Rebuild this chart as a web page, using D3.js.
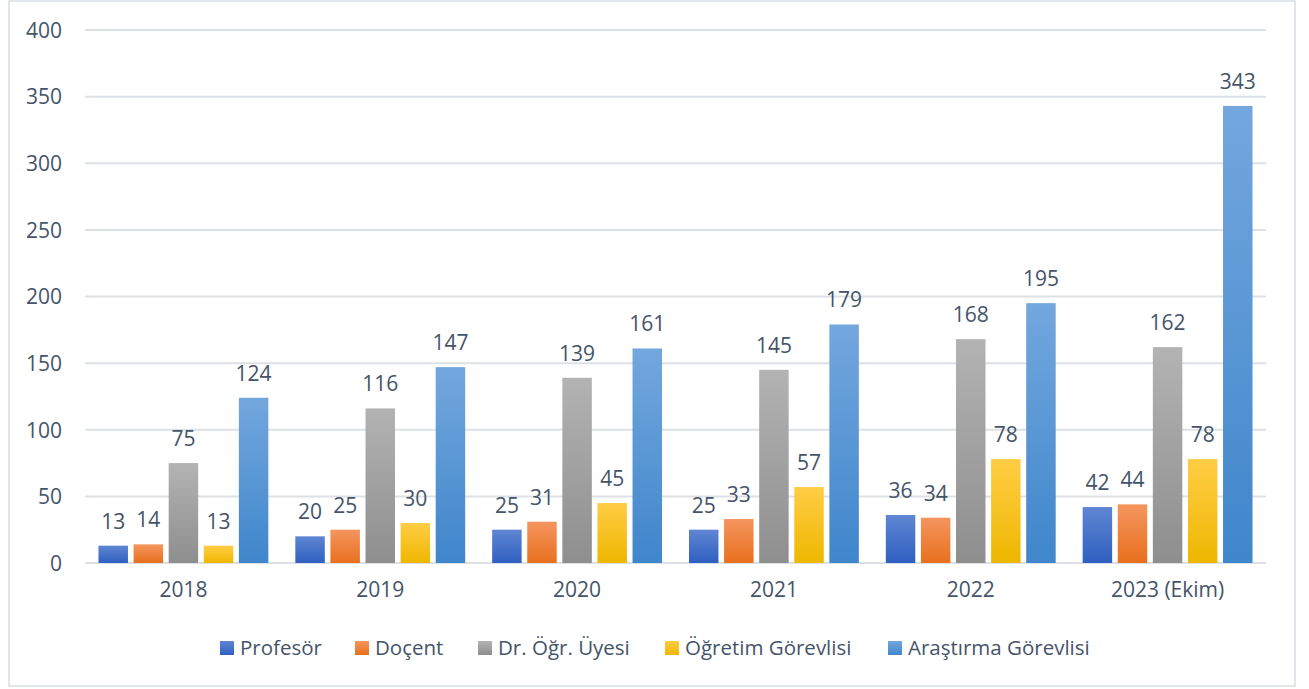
<!DOCTYPE html>
<html>
<head>
<meta charset="utf-8">
<script src="https://cdn.jsdelivr.net/npm/d3@7"></script>
<style>
  body { margin: 0; background: #fff; }
  svg text { font-family: "Open Sans", sans-serif; fill: #44546a; }
</style>
</head>
<body>
<svg id="chart"></svg>
<script>
var years = ["2018", "2019", "2020", "2021", "2022", "2023 (Ekim)"];
var seriesNames = ["Profesör", "Doçent", "Dr. Öğr. Üyesi", "Öğretim Görevlisi", "Araştırma Görevlisi"];
var profesor = [13, 20, 25, 25, 36, 42];
var docent = [14, 25, 31, 33, 34, 44];
var drOgrUyesi = [75, 116, 139, 145, 168, 162];
var ogretimGor = [13, 30, 45, 57, 78, 78];
var arastirmaGor = [124, 147, 161, 179, 195, 343];
var yTicks = [0, 50, 100, 150, 200, 250, 300, 350, 400];

var allSeries = [profesor, docent, drOgrUyesi, ogretimGor, arastirmaGor];
// gradient top / bottom colours per series
var colors = [
  ["#5f86d3", "#2f5fc0"],
  ["#f4955e", "#e8701e"],
  ["#b3b3b3", "#8e8e8e"],
  ["#ffcd45", "#eeb700"],
  ["#73a7de", "#3f86cb"]
];

var W = 1309, H = 689;
var margin = { top: 30, right: 43, bottom: 126, left: 85 };
var w = W - margin.left - margin.right,
    h = H - margin.top - margin.bottom;

var svg = d3.select("#chart").attr("width", W).attr("height", H);

var defs = svg.append("defs");
colors.forEach(function(c, i) {
  var g = defs.append("linearGradient").attr("id", "grad" + i)
    .attr("x1", 0).attr("y1", 0).attr("x2", 0).attr("y2", 1);
  g.append("stop").attr("offset", "0%").attr("stop-color", c[0]);
  g.append("stop").attr("offset", "100%").attr("stop-color", c[1]);
});

// outer frame
svg.append("rect")
  .attr("x", 9).attr("y", 1).attr("width", 1286).attr("height", 685)
  .attr("fill", "none").attr("stroke", "#d9dee5").attr("stroke-width", 1.5);

var g = svg.append("g").attr("transform", "translate(" + margin.left + "," + margin.top + ")");

var x0 = d3.scaleBand().domain(years).range([0, w]).paddingInner(0.08).paddingOuter(0.04);
var x1 = d3.scaleBand().domain(d3.range(seriesNames.length)).range([0, x0.bandwidth()]).padding(0.16);
var y = d3.scaleLinear().domain([0, 400]).range([h, 0]);

// gridlines
g.selectAll("line.grid").data(yTicks).enter().append("line")
  .attr("class", "grid")
  .attr("x1", 0).attr("x2", w)
  .attr("y1", function(d) { return y(d); }).attr("y2", function(d) { return y(d); })
  .attr("stroke", "#dde1e6").attr("stroke-width", 2);

// y axis labels
var yAxis = d3.axisLeft(y).tickValues(yTicks).tickSize(0).tickPadding(23);
var ya = g.append("g").call(yAxis);
ya.select(".domain").remove();
ya.selectAll("text").style("font-size", "21px").attr("fill", "#44546a").attr("dy", "0.35em");

// x axis labels
var xAxis = d3.axisBottom(x0).tickSize(0).tickPadding(19);
var xa = g.append("g").attr("transform", "translate(0," + h + ")").call(xAxis);
xa.select(".domain").remove();
xa.selectAll("text").style("font-size", "21px").attr("fill", "#44546a");

var groups = g.selectAll("g.year").data(years).enter().append("g")
  .attr("class", "year")
  .attr("transform", function(d) { return "translate(" + x0(d) + ",0)"; });

groups.each(function(yr, yi) {
  var grp = d3.select(this);
  var vals = allSeries.map(function(s, si) { return { s: si, v: s[yi] }; });
  grp.selectAll("rect").data(vals).enter().append("rect")
    .attr("x", function(d) { return x1(d.s); })
    .attr("width", x1.bandwidth())
    .attr("y", function(d) { return y(d.v); })
    .attr("height", function(d) { return h - y(d.v); })
    .attr("fill", function(d) { return "url(#grad" + d.s + ")"; });
  grp.selectAll("text.lbl").data(vals).enter().append("text")
    .attr("class", "lbl")
    .attr("x", function(d) { return x1(d.s) + x1.bandwidth() / 2; })
    .attr("y", function(d) { return y(d.v) - 17; })
    .attr("text-anchor", "middle")
    .style("font-size", "21px")
    .text(function(d) { return d.v; });
});

// legend
var legendX = [220, 355, 478, 665, 888];
var legend = svg.append("g");
seriesNames.forEach(function(name, i) {
  legend.append("rect")
    .attr("x", legendX[i]).attr("y", 641).attr("width", 14).attr("height", 14)
    .attr("fill", "url(#grad" + i + ")");
  legend.append("text")
    .attr("x", legendX[i] + 20).attr("y", 655)
    .style("font-size", "20.5px")
    .text(name);
});
</script>
</body>
</html>
